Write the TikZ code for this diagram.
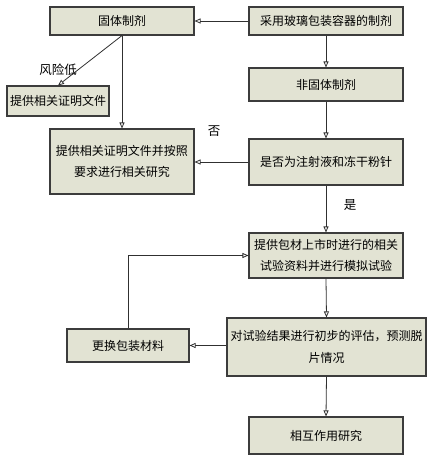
\documentclass[tikz,border=0pt]{standalone}
\usepackage{fontspec}
\setmainfont{Noto Sans CJK SC}
\usetikzlibrary{arrows.meta,calc}
\definecolor{boxfill}{HTML}{E2E3D3}
\definecolor{boxline}{HTML}{3C3C3C}
\definecolor{arrline}{HTML}{303030}
\tikzset{
  box/.style={draw=boxline, line width=1.1pt, fill=boxfill, inner sep=0.5pt, align=center,
    font=\fontsize{12}{21.5}\selectfont},
  conn/.style={draw=arrline, line width=0.8pt, -{Triangle[open, length=6pt, width=5pt]}},
  lbl/.style={font=\fontsize{12.5}{15}\selectfont}
}
\begin{document}
\begin{tikzpicture}[x=1pt,y=-1pt]
\useasboundingbox (0,0) rectangle (434,461);
\node[box, minimum width=144pt, minimum height=28pt] (A) at (122,21) {固体制剂};
\node[box, minimum width=154pt, minimum height=28pt] (B) at (326,21) {采用玻璃包装容器的制剂};
\node[box, minimum width=154pt, minimum height=33pt] (C) at (326,84.5) {非固体制剂};
\node[box, minimum width=102pt, minimum height=30pt] (D) at (58,101) {提供相关证明文件};
\node[box, minimum width=144pt, minimum height=65pt] (E) at (122,161.5) {提供相关证明文件并按照\\要求进行相关研究};
\node[box, minimum width=154pt, minimum height=46pt] (F) at (326,162) {是否为注射液和冻干粉针};
\node[box, minimum width=154pt, minimum height=45pt] (G) at (326,255.5) {提供包材上市时进行的相关\\试验资料并进行模拟试验};
\node[box, minimum width=199pt, minimum height=58pt] (H) at (326.5,347) {对试验结果进行初步的评估，预测脱\\片情况};
\node[box, minimum width=122pt, minimum height=33pt] (I) at (128,345.5) {更换包装材料};
\node[box, minimum width=154pt, minimum height=37pt] (J) at (326,435.5) {相互作用研究};

\draw[conn] (B.west) -- (A.east);
\draw[conn] (B.south) -- (C.north);
\draw[conn] (A.south) -- (D.north);
\draw[conn] (A.south) -- (E.north);
\draw[conn] (C.south) -- (F.north);
\draw[conn] (F.west) -- (E.east |- F.west);
\draw[conn] (F.south) -- (G.north);
\draw[conn] (G.south) -- (H.north);
\draw[conn] (H.west |- I.east) -- (I.east);
\draw[conn] (I.north) |- (G.west);
\draw[conn] (H.south) -- (J.north);

\node[lbl] (l1) at (58,70) {风险低};
\node[lbl] (l2) at (214,131) {否};
\node[lbl] (l3) at (350,205) {是};
\end{tikzpicture}
\end{document}
